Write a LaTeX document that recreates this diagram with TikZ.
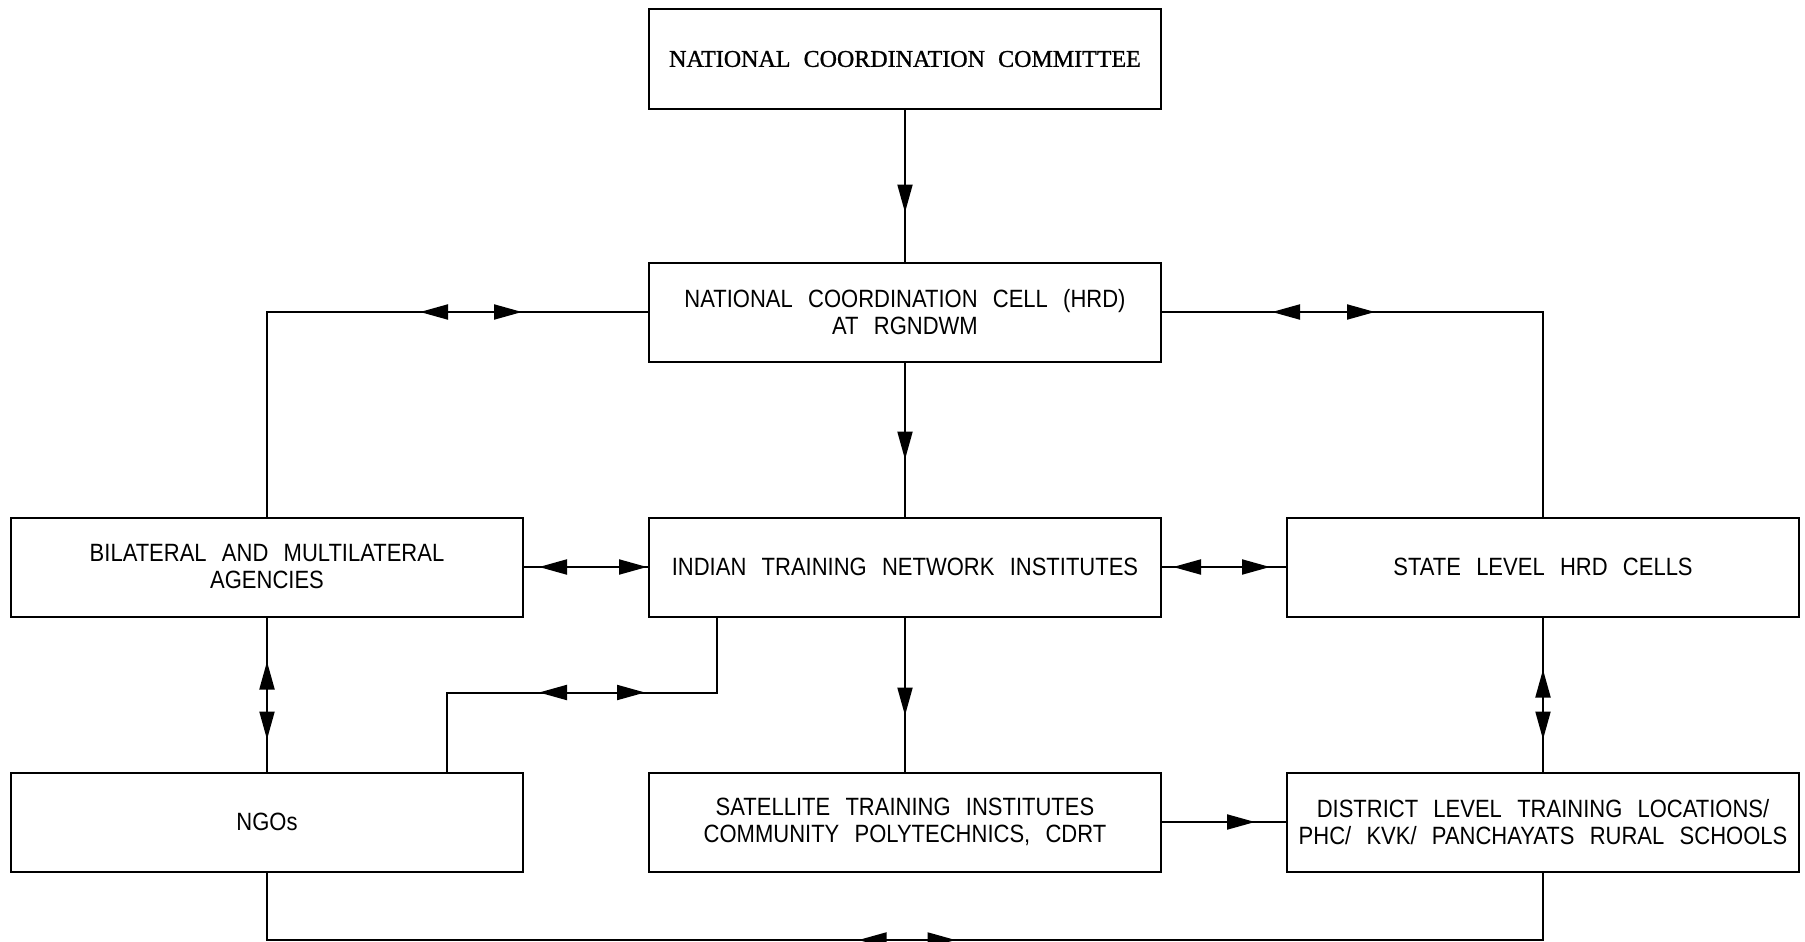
\documentclass[tikz,border=0pt]{standalone}
\usepackage{fontspec}
\newfontfamily\cadfont[FakeStretch=0.88,WordSpace=2.5]{Liberation Sans}
\newfontfamily\headfont[WordSpace=2.2,FakeBold=1]{Liberation Serif}
\usetikzlibrary{%
  arrows.meta,%
  positioning,% wg. " of "
  decorations.markings% Pfeile mitten auf der Linie
}
\tikzset{
  box/.style={draw, rectangle, minimum width=512pt, minimum height=99pt,
    inner sep=2pt, outer sep=0pt, align=center,
    font=\cadfont\fontsize{25}{27}\selectfont},
  fwd/.style={postaction={decorate},
    decoration={markings, mark=at position #1 with {\arrow{>}}}},
  both/.style 2 args={postaction={decorate},
    decoration={markings, mark=at position #1 with {\arrowreversed{>}},
      mark=at position #2 with {\arrow{>}}}}
}

\begin{document}
\begin{tikzpicture}[x=1pt, y=1pt, line width=2pt, >={Triangle[length=28pt,width=15pt]}]
  \useasboundingbox (0,0) rectangle (1805,-942);

  \node[box, font=\headfont\fontsize{24}{27}\selectfont] (ncc) at (905,-59) {NATIONAL COORDINATION COMMITTEE};
  \node[box] (cell) [below=154pt of ncc] {NATIONAL COORDINATION CELL (HRD)\\AT RGNDWM};

  %second row
  \node[box] (itn) [below=156pt of cell] {INDIAN TRAINING NETWORK INSTITUTES};
  \node[box] (bilat) [left=126pt of itn] {BILATERAL AND MULTILATERAL\\AGENCIES};
  \node[box] (state) [right=126pt of itn] {STATE LEVEL HRD CELLS};

  %third row
  \node[box] (sat) [below=156pt of itn] {SATELLITE TRAINING INSTITUTES\\COMMUNITY POLYTECHNICS, CDRT};
  \node[box] (ngo) [left=126pt of sat] {NGOs};
  \node[box] (dist) [right=126pt of sat] {DISTRICT LEVEL TRAINING LOCATIONS/\\PHC/ KVK/ PANCHAYATS RURAL SCHOOLS};

  %down the middle
  \draw[fwd=104pt] (ncc) -- (cell);
  \draw[fwd=98pt] (cell) -- (itn);
  \draw[fwd=99pt] (itn) -- (sat);
  \draw[fwd=94pt] (sat) -- (dist);

  %both ways
  \draw[both={127pt}{229pt}] (cell.west) -| (bilat.north);
  \draw[both={111pt}{214pt}] (cell.east) -| (state.north);
  \draw[both={16pt}{124pt}] (bilat) -- (itn);
  \draw[both={12pt}{109pt}] (itn) -- (state);
  \draw[both={45pt}{123pt}] (bilat) -- (ngo);
  \draw[both={53pt}{123pt}] (state) -- (dist);
  \draw[both={148pt}{254pt}] ([xshift=68pt]itn.south west) -- ++(0,-76) -| ([xshift=436pt]ngo.north west);
  \draw[both={660pt}{757pt}] (ngo.south) -- ++(0,-68.5) -| (dist.south);
\end{tikzpicture}
\end{document}
